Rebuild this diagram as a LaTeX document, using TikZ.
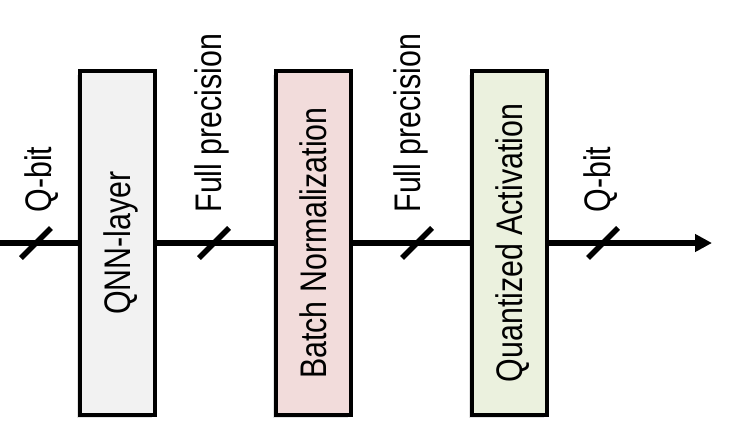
\documentclass[tikz,border=0pt]{standalone}
\usepackage{fontspec}
\setmainfont[FakeStretch=0.82]{Liberation Sans}
\usetikzlibrary{arrows.meta,shadows}

\definecolor{qnnfill}{RGB}{242,242,242}
\definecolor{bnfill}{RGB}{242,220,219}
\definecolor{actfill}{RGB}{235,241,222}

\tikzset{every picture/.style={line width=0.75pt}}
\tikzset{
  layerbox/.style={draw, line width=2.75pt, rotate=90, inner sep=0pt,
    minimum width=257.6pt, minimum height=56.25pt,
    text height=19.9pt, text depth=0pt,
    font=\fontsize{27.75}{33}\selectfont,
    drop shadow={opacity=0.22, shadow xshift=-2.5pt, shadow yshift=-2.5pt}},
  bitlabel/.style={rotate=90, anchor=base west, inner sep=0pt,
    font=\fontsize{27.75}{33}\selectfont},
  flowline/.style={line width=4pt},
  slashmark/.style={line width=4pt}
}

\begin{document}
\begin{tikzpicture}[x=0.75pt,y=0.75pt,yscale=-1,xscale=1]
\useasboundingbox (0,0) rectangle (731,432); %set diagram left start at 0, and has height of 432

%Shape: Rectangle [QNN layer]
\node[layerbox, fill=qnnfill] (qnn) at (117.5,243) {QNN-layer};
%Shape: Rectangle [batch norm]
\node[layerbox, fill=bnfill] (bn) at (313.5,243) {Batch Normalization};
%Shape: Rectangle [activation]
\node[layerbox, fill=actfill] (act) at (509.5,243) {Quantized Activation};

%Straight Lines
\coordinate (in) at (0,243);
\coordinate (out) at (712,243);
\draw[flowline] (in) -- (qnn);
\draw[flowline] (qnn) -- (bn);
\draw[flowline] (bn) -- (act);
\draw[flowline, -{Triangle[length=12.75pt,width=12.75pt]}] (act) -- (out);

%Slashes
\coordinate (s1) at (36,243);
\coordinate (s2) at (214,243);
\coordinate (s3) at (417,243);
\coordinate (s4) at (603,243);
\draw[slashmark] (s1) +(-15,15) -- +(15,-15);
\draw[slashmark] (s2) +(-15,15) -- +(15,-15);
\draw[slashmark] (s3) +(-15,15) -- +(15,-15);
\draw[slashmark] (s4) +(-15,15) -- +(15,-15);

% Text Node
\node[bitlabel] (qin) at (51.5,213) {Q-bit};
% Text Node
\node[bitlabel] (fp1) at (221,213) {Full precision};
% Text Node
\node[bitlabel] (fp2) at (420,213) {Full precision};
% Text Node
\node[bitlabel] (qout) at (610,213) {Q-bit};

\end{tikzpicture}
\end{document}
